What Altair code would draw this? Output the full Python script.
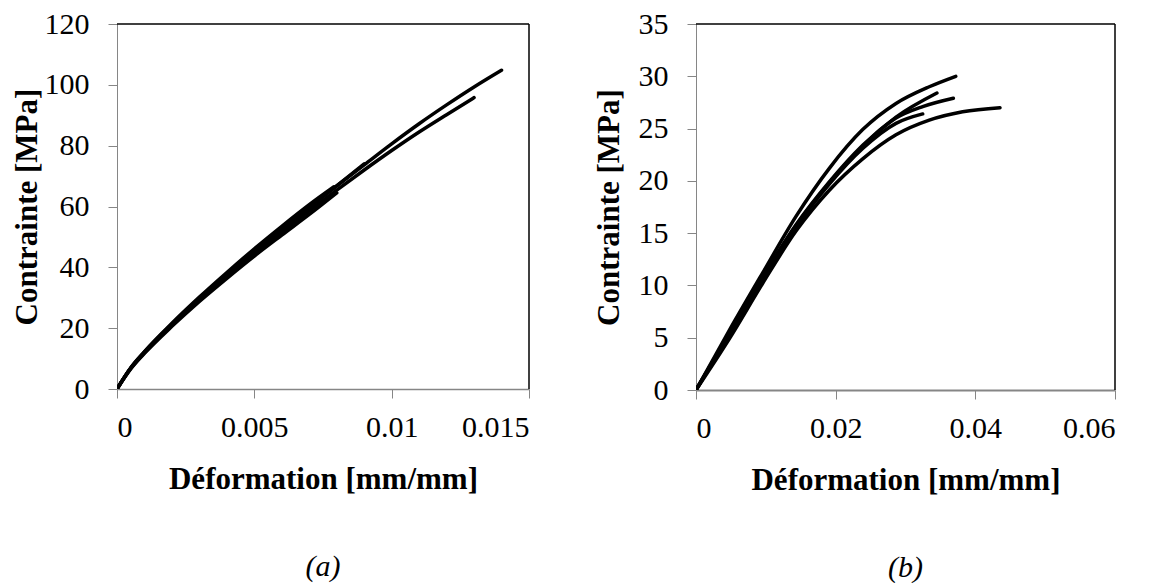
import altair as alt
import pandas as pd

FONT = "Liberation Serif"

# ---------- Panel (a) : five stress-strain curves ----------
a1_x = [0, 0.0005, 0.001, 0.002, 0.003, 0.004, 0.005, 0.006, 0.007, 0.008, 0.009, 0.010, 0.011, 0.012, 0.013, 0.0140]
a1_y = [0, 6.8, 12.0, 21.2, 29.6, 37.5, 45.3, 52.6, 59.7, 66.8, 73.7, 80.6, 87.2, 93.4, 99.3, 104.8]
a2_x = [0, 0.0005, 0.001, 0.002, 0.003, 0.004, 0.005, 0.006, 0.007, 0.008, 0.009, 0.010, 0.011, 0.012, 0.0130]
a2_y = [0, 6.8, 12.0, 21.0, 29.3, 37.1, 44.6, 51.6, 58.6, 65.4, 72.0, 78.4, 84.5, 90.2, 95.8]
a3_x = [0, 0.0005, 0.001, 0.002, 0.003, 0.004, 0.005, 0.006, 0.007, 0.008, 0.0090]
a3_y = [0, 6.9, 12.2, 21.4, 29.9, 37.8, 45.5, 52.7, 59.8, 66.8, 74.0]
a4_x = [0, 0.0005, 0.001, 0.002, 0.003, 0.004, 0.005, 0.006, 0.007, 0.0080]
a4_y = [0, 6.6, 11.7, 20.6, 28.8, 36.4, 43.7, 50.6, 57.4, 64.5]
a5_x = [0, 0.0005, 0.001, 0.002, 0.003, 0.004, 0.005, 0.006, 0.007, 0.0079]
a5_y = [0, 7.0, 12.3, 21.6, 30.2, 38.3, 46.1, 53.5, 60.6, 66.5]

# ---------- Panel (b) : five stress-strain curves ----------
b1_x = [0, 0.00477, 0.00955, 0.01432, 0.01909, 0.02387, 0.02864, 0.0334, 0.0372]
b1_y = [0, 5.7, 11.2, 16.6, 21.2, 24.9, 27.4, 29.0, 30.0]
b2_x = [0, 0.00477, 0.00955, 0.01432, 0.01909, 0.02387, 0.02864, 0.0345]
b2_y = [0, 5.4, 10.8, 15.8, 19.9, 23.4, 26.1, 28.4]
b3_x = [0, 0.00477, 0.00955, 0.01432, 0.01909, 0.02387, 0.02864, 0.03246, 0.03685]
b3_y = [0, 5.3, 10.7, 15.7, 19.8, 23.3, 26.0, 27.1, 27.9]
b4_x = [0, 0.00477, 0.00955, 0.01432, 0.01909, 0.02387, 0.02864, 0.03246]
b4_y = [0, 5.3, 10.6, 15.6, 19.7, 23.1, 25.5, 26.4]
b5_x = [0, 0.00477, 0.00955, 0.01432, 0.01909, 0.02387, 0.02864, 0.0334, 0.03818, 0.04353]
b5_y = [0, 4.9, 10.2, 15.2, 19.1, 22.1, 24.4, 25.8, 26.6, 27.0]

a_xticks = [0, 0.005, 0.01, 0.015]
a_yticks = [0, 20, 40, 60, 80, 100, 120]
b_xticks = [0, 0.02, 0.04, 0.06]
b_yticks = [0, 5, 10, 15, 20, 25, 30, 35]

x_title = "Déformation [mm/mm]"
y_title = "Contrainte [MPa]"


def make_df(curves):
    rows = []
    for name, (xs, ys) in curves.items():
        for i, (x, y) in enumerate(zip(xs, ys)):
            rows.append({"curve": name, "x": x, "y": y, "order": i})
    return pd.DataFrame(rows)


df_a = make_df({"a1": (a1_x, a1_y), "a2": (a2_x, a2_y), "a3": (a3_x, a3_y),
                "a4": (a4_x, a4_y), "a5": (a5_x, a5_y)})
df_b = make_df({"b1": (b1_x, b1_y), "b2": (b2_x, b2_y), "b3": (b3_x, b3_y),
                "b4": (b4_x, b4_y), "b5": (b5_x, b5_y)})

GRAY = "#868686"


def panel(df, xticks, yticks, w, h, caption, bottom_width, ytitle_pad):
    lines = alt.Chart(df).mark_line(
        color="black", strokeWidth=3.5, strokeCap="round", strokeJoin="round",
        interpolate="monotone", clip=True
    ).encode(
        x=alt.X("x:Q", scale=alt.Scale(domain=[xticks[0], xticks[-1]], nice=False),
                axis=alt.Axis(values=xticks, format=".3~f", title=x_title,
                              domainColor=GRAY, domainWidth=bottom_width,
                              tickColor=GRAY, tickWidth=1, tickSize=9,
                              labelPadding=14, titlePadding=22, grid=False)),
        y=alt.Y("y:Q", scale=alt.Scale(domain=[yticks[0], yticks[-1]], nice=False),
                axis=alt.Axis(values=yticks, format="d", title=y_title,
                              domainColor=GRAY, domainWidth=1,
                              tickColor=GRAY, tickWidth=1, tickSize=9,
                              labelPadding=19, titlePadding=ytitle_pad, grid=False)),
        detail="curve:N",
        order="order:Q",
    )
    one = pd.DataFrame({"k": [0]})
    top = alt.Chart(one).mark_rule(color="black", strokeWidth=1.5).encode(
        x=alt.value(0), x2=alt.value(w), y=alt.value(0))
    right = alt.Chart(one).mark_rule(color="black", strokeWidth=1.5).encode(
        x=alt.value(w), y=alt.value(0), y2=alt.value(h))
    cap = alt.Chart(pd.DataFrame({"t": [caption]})).mark_text(
        font=FONT, fontStyle="italic", fontSize=30, baseline="middle", align="center"
    ).encode(x=alt.value(w / 2), y=alt.value(h + 178), text="t:N")
    return alt.layer(lines, top, right, cap).properties(width=w, height=h)


left = panel(df_a, a_xticks, a_yticks, 412, 365, "(a)", 1.5, 1)
right = panel(df_b, b_xticks, b_yticks, 419, 366, "(b)", 2, 13)

chart = alt.hconcat(left, right, spacing=63).properties(
    padding={"left": 3, "top": 1, "right": 0, "bottom": 0}
).configure_view(stroke=None).configure_axis(
    labelFont=FONT, labelFontSize=30, labelColor="black",
    titleFont=FONT, titleFontSize=31, titleFontWeight="bold", titleColor="black",
)

chart.save("out.html", embed_options={"renderer": "svg", "actions": False})
